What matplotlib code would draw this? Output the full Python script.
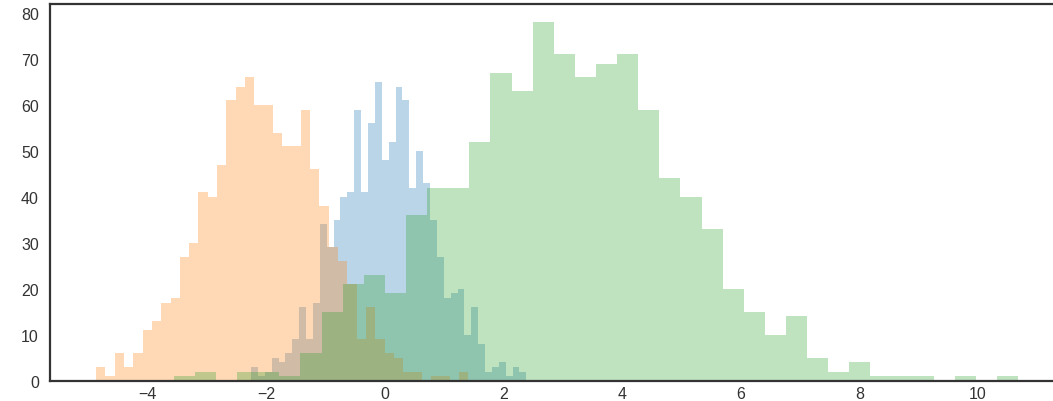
import numpy as np
import matplotlib
matplotlib.use("Agg")
import matplotlib.pyplot as plt

# bin counts (40 bins each)
blue_counts = [3, 1, 2, 5, 4, 6, 9, 16, 9, 17, 34, 29, 35, 40, 41, 59, 41, 56, 65, 48,
               52, 64, 61, 42, 50, 43, 35, 27, 18, 19, 20, 10, 16, 8, 2, 3, 4, 1, 3, 2]
orange_counts = [3, 1, 6, 3, 6, 11, 13, 17, 18, 27, 30, 41, 40, 47, 61, 64, 66, 60, 60, 54,
                 51, 51, 59, 46, 38, 29, 26, 21, 9, 16, 9, 6, 5, 2, 2, 0, 1, 1, 0, 2]
green_counts = [1, 2, 0, 2, 2, 1, 6, 15, 21, 23, 19, 36, 42, 42, 52, 67, 63, 78, 71, 66,
                69, 71, 59, 44, 40, 33, 20, 15, 10, 14, 5, 2, 4, 1, 1, 1, 0, 1, 0, 1]

# range covered by the bins of each histogram
blue_range = (-2.262, 2.383)
orange_range = (-4.874, 1.405)
green_range = (-3.565, 10.68)

plt.style.use('seaborn-v0_8-white')
plt.rcParams['font.family'] = ['Liberation Sans', 'DejaVu Sans']

fig = plt.figure(figsize=(10.53, 4.02), dpi=100)
# axes runs a little past the right edge, as in the reference crop
ax = fig.add_axes([50 / 1053, 20.3 / 402, 1014.4 / 1053, 376.4 / 402])

for counts, rng, col in [(blue_counts, blue_range, 'C0'),
                         (orange_counts, orange_range, 'C1'),
                         (green_counts, green_range, 'C2')]:
    edges = np.linspace(rng[0], rng[1], len(counts) + 1)
    centers = (edges[:-1] + edges[1:]) / 2
    ax.hist(centers, bins=edges, weights=counts, histtype='stepfilled',
            alpha=0.3, color=col)

for side in ['left', 'bottom', 'top', 'right']:
    ax.spines[side].set_color('#333333')
    ax.spines[side].set_linewidth(1.6)

ax.tick_params(axis='both', length=0, labelsize=11.5, labelcolor='#333333')
ax.tick_params(axis='x', pad=3.5)
ax.tick_params(axis='y', pad=8)

fig.savefig('out.png', dpi=100)
